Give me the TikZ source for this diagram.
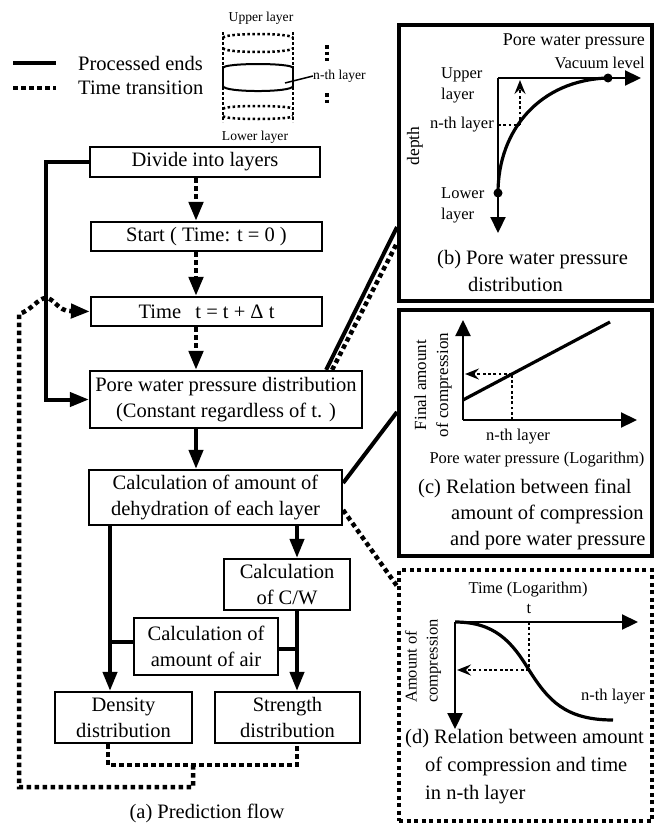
\documentclass[tikz,border=0pt]{standalone}
\usepackage{fontspec}
\setmainfont{Liberation Serif}
\usetikzlibrary{arrows.meta,calc}
\newcommand\mainsz{\fontsize{20.5}{26}\selectfont}
\newcommand\capsz{\fontsize{20.5}{27}\selectfont}
\newcommand\labsz{\fontsize{16.5}{21}\selectfont}
\newcommand\tinysz{\fontsize{13.6}{16}\selectfont}
\begin{document}
\begin{tikzpicture}[x=1pt,y=-1pt,
  box/.style={draw, line width=2.2pt, inner sep=0pt, align=center, font=\mainsz},
  fl/.style={line width=4pt},
  fldot/.style={line width=4.5pt, dash pattern=on 4.5pt off 3.5pt},
  farr/.style={-{Triangle[length=19pt,width=14pt]}},
  panelbox/.style={draw, line width=4pt, inner sep=0pt},
  paneldot/.style={draw, line width=4pt, dash pattern=on 4pt off 3.5pt, inner sep=0pt},
  axisln/.style={line width=2.2pt},
  bigtip/.style={-{Triangle[length=16pt,width=15pt]}},
  crv/.style={line width=3.2pt},
  pdot/.style={line width=2.8pt, dash pattern=on 2.8pt off 2.5pt},
  stip/.style={-{Stealth[length=14pt,width=11pt,inset=5pt]}},
  lab/.style={font=\labsz, inner sep=0pt, align=center},
  captxt/.style={font=\capsz, inner sep=0pt},
  cyl/.style={line width=2pt},
  cyldot/.style={line width=2.5pt, dash pattern=on 2.5pt off 2.5pt},
]
\useasboundingbox (0,0) rectangle (655,827);

% ---------- legend ----------
\coordinate (lgA) at (13,63); \coordinate (lgB) at (56,63);
\coordinate (lgC) at (13,88); \coordinate (lgD) at (56,88);
\draw[fl] (lgA) -- (lgB);
\draw[fldot] (lgC) -- (lgD);
\node[font=\mainsz, inner sep=0pt, anchor=west] (lgt1) at (78,63) {Processed ends};
\node[font=\mainsz, inner sep=0pt, anchor=west] (lgt2) at (78,88) {Time transition};

% ---------- cylinder ----------
\node[font=\tinysz, inner sep=0pt] (upl) at (261,18) {Upper layer};
\node[font=\tinysz, inner sep=0pt] (lol) at (255,137) {Lower layer};
\draw[cyldot] (223,32) -- (223,122);
\draw[cyldot] (293,32) -- (293,122);
\draw[cyldot] (223,38) .. controls (223,32.7) and (293,32.7) .. (293,38);
\draw[cyldot] (223,48) .. controls (223,53.3) and (293,53.3) .. (293,48);
\draw[cyldot] (223,109) .. controls (223,105) and (293,105) .. (293,109);
\draw[cyldot] (223,116) .. controls (223,120) and (293,120) .. (293,116);
\draw[cyl] (223,66) -- (223,88);
\draw[cyl] (293,66) -- (293,88);
\draw[cyl] (223,68) .. controls (223,62.7) and (293,62.7) .. (293,68);
\draw[cyl] (223,86) .. controls (223,92.7) and (293,92.7) .. (293,86);
\node[font=\tinysz, inner sep=0pt, anchor=west] (nthc) at (313,76) {n-th layer};
\draw[line width=1.5pt] (285,83) -- (nthc.west);
\draw[line width=3.5pt, dash pattern=on 3.5pt off 3pt] (327,45) -- (327,61);
\draw[line width=3.5pt, dash pattern=on 3.5pt off 3pt] (327,93) -- (327,106);

% ---------- flow boxes ----------
\node[box, minimum width=230pt, minimum height=30pt] (div) at (205,162) {Divide into layers};
\node[box, minimum width=231pt, minimum height=29pt] (start) at (206.5,236.5) {Start ( Time: t = 0 )};
\node[box, minimum width=231pt, minimum height=29pt] (time) at (206.5,311.5) {Time\hspace{0.7em}t = t + Δ t};
\node[box, minimum width=272pt, minimum height=57pt] (pore) at (226,399.5) {Pore water pressure distribution\\(Constant regardless of t. )};
\node[box, minimum width=253pt, minimum height=55pt] (dehyd) at (215.5,497.5) {Calculation of amount of\\dehydration of each layer};
\node[box, minimum width=126pt, minimum height=51pt] (cw) at (287,584.5) {Calculation\\of C/W};
\node[box, minimum width=144pt, minimum height=57pt] (air) at (206,646.5) {Calculation of\\amount of air};
\node[box, minimum width=137pt, minimum height=51pt] (dens) at (123.5,717.5) {Density\\distribution};
\node[box, minimum width=145pt, minimum height=51pt] (str) at (287.5,717.5) {Strength\\distribution};
\node[captxt] (capa) at (207,813) {(a) Prediction flow};

% ---------- flow connectors ----------
\coordinate (xA) at (196,0);
\coordinate (xD) at (110,0);
\coordinate (xS) at (297,0);
\coordinate (xL) at (108,0);
\draw[fldot,farr] (div.south -| xA) -- (start.north -| xA);
\draw[fldot,farr] (start.south -| xA) -- (time.north -| xA);
\draw[fldot,farr] (time.south -| xA) -- (pore.north -| xA);
\draw[fl,farr] (pore.south -| xA) -- (dehyd.north -| xA);
\draw[fl,farr] (div.west) -- ++(-43,0) |- (pore.west);
\draw[fl,farr] (dehyd.south -| xD) -- (dens.north -| xD);
\draw[fl,farr] (dehyd.south -| xS) -- (cw.north -| xS);
\draw[fl,farr] (cw.south -| xS) -- (str.north -| xS);
\draw[fl] (air.west |- 0,642) -- (xD |- 0,642);
\draw[fl] (air.east |- 0,649) -- (xS |- 0,649);
\draw[fldot] (dens.south -| xL) -- (xL |- 0,765) -- (xS |- 0,765) -- (str.south -| xS);
\draw[fldot,farr] (193,765) -- (193,787) -- (19,787) -- (19,314)
  .. controls (32,310) and (38,298) .. (46,298)
  .. controls (54,298) and (58,311) .. (70,311) -- (time.west);

% ---------- panels ----------
\node[panelbox, minimum width=253pt, minimum height=276pt] (pb) at (525.5,163) {};
\node[panelbox, minimum width=253pt, minimum height=246pt] (pc) at (525.5,433) {};
\node[paneldot, minimum width=253pt, minimum height=251pt] (pd) at (525.5,695.5) {};

\draw[fl] ($(pore.north east)+(-37,0)$) -- (pb.west |- 0,227);
\draw[fldot] ($(pore.north east)+(-31,0)$) -- (pb.west |- 0,243);
\draw[fl] (dehyd.east |- 0,483) -- (pc.west |- 0,412);
\draw[fldot] (dehyd.east |- 0,510) -- (pd.west |- 0,586);

% ---------- panel (b) ----------
\node[lab, font=\fontsize{18}{21}\selectfont, anchor=east] (bpwp) at (645,42) {Pore water pressure};
\node[lab, anchor=east] (bvac) at (645,63) {Vacuum level};
\node[lab, align=left, anchor=west] (bul) at (441,85) {Upper\\layer};
\node[lab, anchor=east] (bnth) at (494,125) {n-th layer};
\node[lab, font=\fontsize{17.5}{21}\selectfont, rotate=90] (bdep) at (415,146) {depth};
\node[lab, align=left, anchor=west] (bll) at (441,205) {Lower\\layer};
\coordinate (bo) at (498,78);
\coordinate (bx) at (641,78);
\coordinate (by) at (498,233);
\draw[axisln,bigtip] (bo) -- (bx);
\draw[axisln,bigtip] (bo) -- (by);
\coordinate (bc1) at (498,193);
\coordinate (bc2) at (608,78);
\draw[crv] (bc1) .. controls (498,130) and (540,80) .. (bc2);
\fill (bc1) circle (4.5pt);
\fill (bc2) circle (4.5pt);
\draw[pdot] (498,125) -- (520,125);
\draw[pdot,stip] (520,125) -- (520,80);
\node[captxt, align=left, anchor=west] (capb) at (437,271) {(b) Pore water pressure\\\hspace*{31pt}distribution};

% ---------- panel (c) ----------
\coordinate (co) at (463,420);
\draw[axisln,bigtip] (co) -- (463,320);
\draw[axisln,bigtip] (co) -- (637,420);
\draw[crv] (463,400) -- (610,322);
\draw[pdot] (512,420) -- (512,374);
\draw[pdot,stip] (512,374) -- (465,374);
\node[lab, font=\fontsize{17}{22}\selectfont, rotate=90] (cfin) at (433,385) {Final amount\\of compression};
\node[lab] (cnth) at (518,437) {n-th layer};
\node[lab] (cpwp) at (537,460) {Pore water pressure (Logarithm)};
\node[captxt, align=left, anchor=west, font=\fontsize{20.5}{26}\selectfont] (capc) at (418,514) {(c) Relation between final\\\hspace*{33pt}amount of compression\\\hspace*{32pt}and pore water pressure};

% ---------- panel (d) ----------
\coordinate (do) at (455,622);
\draw[axisln,bigtip] (do) -- (638,622);
\draw[axisln,bigtip] (do) -- (455,729);
\draw[crv] (do) .. controls (495,622) and (512,642) .. (529,670)
  .. controls (548,700) and (565,720) .. (613,720);
\draw[pdot] (529,622) -- (529,670);
\draw[pdot,stip] (529,670) -- (457,670);
\node[lab] (dtime) at (528,590) {Time (Logarithm)};
\node[lab] (dt) at (529,609) {t};
\node[lab, rotate=90, align=left, anchor=west] (damt) at (423,703) {Amount of\\compression};
\node[lab] (dnth) at (613,697) {n-th layer};
\node[captxt, align=left, anchor=west, font=\fontsize{20.5}{28}\selectfont] (capd) at (405,767) {(d) Relation between amount\\\hspace*{20pt}of compression and time\\\hspace*{20pt}in n-th layer};
\end{tikzpicture}
\end{document}
